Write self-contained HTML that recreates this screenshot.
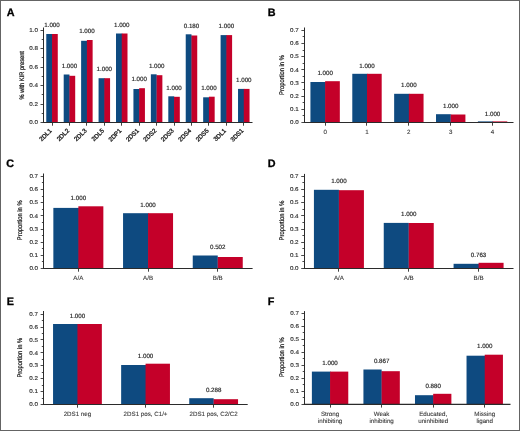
<!DOCTYPE html>
<html><head><meta charset="utf-8"><style>
html,body{margin:0;padding:0;background:#fff;}
body{width:520px;height:431px;overflow:hidden;}
svg{display:block;font-family:"Liberation Sans",sans-serif;will-change:transform;text-rendering:geometricPrecision;}
.t{font-size:6.2px;fill:#222;stroke:#222;stroke-width:0.15px;}
.tk{font-size:5.6px;fill:#333;stroke:#333;stroke-width:0.15px;}
.ti{font-size:6.7px;fill:#111;stroke:#111;stroke-width:0.22px;}
.tr{stroke-width:0.32px;}
.tx{fill:#383838;stroke:#383838;stroke-width:0.1px;}
.L{font-size:10.8px;font-weight:bold;fill:#000;stroke:#000;stroke-width:0.3px;}
</style></head><body>
<svg width="520" height="431" viewBox="0 0 520 431">
<rect x="0" y="0" width="520" height="431" fill="#fff"/>
<text x="6.75" y="15.6" class="L">A</text>
<line x1="43.5" y1="27.5" x2="43.5" y2="122.5" stroke="#2b2b2b" stroke-width="1"/>
<line x1="40.5" y1="122.50" x2="43.3" y2="122.50" stroke="#2b2b2b" stroke-width="0.85"/>
<text transform="translate(37.90,124.20) scale(1.12,1)" text-anchor="end" class="tk">0.0</text>
<line x1="41.699999999999996" y1="113.50" x2="43.3" y2="113.50" stroke="#2b2b2b" stroke-width="0.85"/>
<line x1="40.5" y1="104.50" x2="43.3" y2="104.50" stroke="#2b2b2b" stroke-width="0.85"/>
<text transform="translate(37.90,105.75) scale(1.12,1)" text-anchor="end" class="tk">0.2</text>
<line x1="41.699999999999996" y1="94.50" x2="43.3" y2="94.50" stroke="#2b2b2b" stroke-width="0.85"/>
<line x1="40.5" y1="85.50" x2="43.3" y2="85.50" stroke="#2b2b2b" stroke-width="0.85"/>
<text transform="translate(37.90,87.30) scale(1.12,1)" text-anchor="end" class="tk">0.4</text>
<line x1="41.699999999999996" y1="76.50" x2="43.3" y2="76.50" stroke="#2b2b2b" stroke-width="0.85"/>
<line x1="40.5" y1="67.50" x2="43.3" y2="67.50" stroke="#2b2b2b" stroke-width="0.85"/>
<text transform="translate(37.90,68.85) scale(1.12,1)" text-anchor="end" class="tk">0.6</text>
<line x1="41.699999999999996" y1="57.50" x2="43.3" y2="57.50" stroke="#2b2b2b" stroke-width="0.85"/>
<line x1="40.5" y1="48.50" x2="43.3" y2="48.50" stroke="#2b2b2b" stroke-width="0.85"/>
<text transform="translate(37.90,50.40) scale(1.12,1)" text-anchor="end" class="tk">0.8</text>
<line x1="41.699999999999996" y1="39.50" x2="43.3" y2="39.50" stroke="#2b2b2b" stroke-width="0.85"/>
<line x1="40.5" y1="30.50" x2="43.3" y2="30.50" stroke="#2b2b2b" stroke-width="0.85"/>
<text transform="translate(37.90,31.95) scale(1.12,1)" text-anchor="end" class="tk">1.0</text>
<text transform="translate(23.5,75.3) rotate(-90) scale(0.87,1)" text-anchor="middle" class="ti" style="font-size:6.55px">% with KIR present</text>
<rect x="46.27" y="34.00" width="6.35" height="88.50" fill="#0e4a80"/>
<rect x="52.02" y="34.00" width="5.75" height="88.50" fill="#c40029"/>
<text x="52.02" y="26.70" text-anchor="middle" class="t">1.000</text>
<rect x="63.70" y="74.50" width="5.75" height="48.00" fill="#0e4a80"/><rect x="69.35" y="75.80" width="0.7" height="46.70" fill="#0e4a80"/>
<rect x="69.45" y="75.80" width="5.75" height="46.70" fill="#c40029"/>
<text x="69.45" y="67.70" text-anchor="middle" class="t">1.000</text>
<rect x="81.13" y="40.80" width="6.35" height="81.70" fill="#0e4a80"/>
<rect x="86.88" y="40.00" width="5.75" height="82.50" fill="#c40029"/>
<text x="86.88" y="32.90" text-anchor="middle" class="t">1.000</text>
<rect x="98.57" y="78.20" width="6.35" height="44.30" fill="#0e4a80"/>
<rect x="104.32" y="78.20" width="5.75" height="44.30" fill="#c40029"/>
<text x="104.32" y="71.40" text-anchor="middle" class="t">1.000</text>
<rect x="116.00" y="33.50" width="6.35" height="89.00" fill="#0e4a80"/>
<rect x="121.75" y="33.50" width="5.75" height="89.00" fill="#c40029"/>
<text x="121.75" y="26.90" text-anchor="middle" class="t">1.000</text>
<rect x="133.43" y="89.00" width="6.35" height="33.50" fill="#0e4a80"/>
<rect x="139.18" y="88.20" width="5.75" height="34.30" fill="#c40029"/>
<text x="139.18" y="81.10" text-anchor="middle" class="t">1.000</text>
<rect x="150.87" y="74.30" width="5.75" height="48.20" fill="#0e4a80"/><rect x="156.52" y="75.20" width="0.7" height="47.30" fill="#0e4a80"/>
<rect x="156.62" y="75.20" width="5.75" height="47.30" fill="#c40029"/>
<text x="156.62" y="67.70" text-anchor="middle" class="t">1.000</text>
<rect x="168.30" y="96.30" width="5.75" height="26.20" fill="#0e4a80"/><rect x="173.95" y="96.80" width="0.7" height="25.70" fill="#0e4a80"/>
<rect x="174.05" y="96.80" width="5.75" height="25.70" fill="#c40029"/>
<text x="174.05" y="89.70" text-anchor="middle" class="t">1.000</text>
<rect x="185.73" y="34.30" width="5.75" height="88.20" fill="#0e4a80"/><rect x="191.38" y="35.50" width="0.7" height="87.00" fill="#0e4a80"/>
<rect x="191.48" y="35.50" width="5.75" height="87.00" fill="#c40029"/>
<text x="191.48" y="27.90" text-anchor="middle" class="t">0.180</text>
<rect x="203.17" y="97.30" width="6.35" height="25.20" fill="#0e4a80"/>
<rect x="208.92" y="96.70" width="5.75" height="25.80" fill="#c40029"/>
<text x="208.92" y="89.90" text-anchor="middle" class="t">1.000</text>
<rect x="220.60" y="35.10" width="6.35" height="87.40" fill="#0e4a80"/>
<rect x="226.35" y="35.10" width="5.75" height="87.40" fill="#c40029"/>
<text x="226.35" y="27.90" text-anchor="middle" class="t">1.000</text>
<rect x="238.03" y="88.90" width="6.35" height="33.60" fill="#0e4a80"/>
<rect x="243.78" y="88.90" width="5.75" height="33.60" fill="#c40029"/>
<text x="243.78" y="82.40" text-anchor="middle" class="t">1.000</text>
<line x1="42.8" y1="122.5" x2="252.5" y2="122.5" stroke="#2b2b2b" stroke-width="1.1"/>
<line x1="52.50" y1="122.5" x2="52.50" y2="125.7" stroke="#2b2b2b" stroke-width="0.9"/>
<line x1="69.50" y1="122.5" x2="69.50" y2="125.7" stroke="#2b2b2b" stroke-width="0.9"/>
<line x1="86.50" y1="122.5" x2="86.50" y2="125.7" stroke="#2b2b2b" stroke-width="0.9"/>
<line x1="104.50" y1="122.5" x2="104.50" y2="125.7" stroke="#2b2b2b" stroke-width="0.9"/>
<line x1="121.50" y1="122.5" x2="121.50" y2="125.7" stroke="#2b2b2b" stroke-width="0.9"/>
<line x1="139.50" y1="122.5" x2="139.50" y2="125.7" stroke="#2b2b2b" stroke-width="0.9"/>
<line x1="156.50" y1="122.5" x2="156.50" y2="125.7" stroke="#2b2b2b" stroke-width="0.9"/>
<line x1="174.50" y1="122.5" x2="174.50" y2="125.7" stroke="#2b2b2b" stroke-width="0.9"/>
<line x1="191.50" y1="122.5" x2="191.50" y2="125.7" stroke="#2b2b2b" stroke-width="0.9"/>
<line x1="208.50" y1="122.5" x2="208.50" y2="125.7" stroke="#2b2b2b" stroke-width="0.9"/>
<line x1="226.50" y1="122.5" x2="226.50" y2="125.7" stroke="#2b2b2b" stroke-width="0.9"/>
<line x1="243.50" y1="122.5" x2="243.50" y2="125.7" stroke="#2b2b2b" stroke-width="0.9"/>
<text transform="translate(52.22,131.1) rotate(-45)" text-anchor="end" class="t tr">2DL1</text>
<text transform="translate(69.65,131.1) rotate(-45)" text-anchor="end" class="t tr">2DL2</text>
<text transform="translate(87.08,131.1) rotate(-45)" text-anchor="end" class="t tr">2DL3</text>
<text transform="translate(104.52,131.1) rotate(-45)" text-anchor="end" class="t tr">2DL5</text>
<text transform="translate(121.95,131.1) rotate(-45)" text-anchor="end" class="t tr">2DP1</text>
<text transform="translate(139.38,131.1) rotate(-45)" text-anchor="end" class="t tr">2DS1</text>
<text transform="translate(156.82,131.1) rotate(-45)" text-anchor="end" class="t tr">2DS2</text>
<text transform="translate(174.25,131.1) rotate(-45)" text-anchor="end" class="t tr">2DS3</text>
<text transform="translate(191.68,131.1) rotate(-45)" text-anchor="end" class="t tr">2DS4</text>
<text transform="translate(209.12,131.1) rotate(-45)" text-anchor="end" class="t tr">2DS5</text>
<text transform="translate(226.55,131.1) rotate(-45)" text-anchor="end" class="t tr">3DL1</text>
<text transform="translate(243.98,131.1) rotate(-45)" text-anchor="end" class="t tr">3DS1</text>
<text x="267.7" y="15.8" class="L">B</text>
<line x1="304.5" y1="27.5" x2="304.5" y2="122.5" stroke="#2b2b2b" stroke-width="1"/>
<line x1="301.4" y1="122.50" x2="304.2" y2="122.50" stroke="#2b2b2b" stroke-width="0.85"/>
<text transform="translate(298.80,124.20) scale(1.12,1)" text-anchor="end" class="tk">0.0</text>
<line x1="302.59999999999997" y1="115.50" x2="304.2" y2="115.50" stroke="#2b2b2b" stroke-width="0.85"/>
<line x1="301.4" y1="109.50" x2="304.2" y2="109.50" stroke="#2b2b2b" stroke-width="0.85"/>
<text transform="translate(298.80,111.03) scale(1.12,1)" text-anchor="end" class="tk">0.1</text>
<line x1="302.59999999999997" y1="102.50" x2="304.2" y2="102.50" stroke="#2b2b2b" stroke-width="0.85"/>
<line x1="301.4" y1="96.50" x2="304.2" y2="96.50" stroke="#2b2b2b" stroke-width="0.85"/>
<text transform="translate(298.80,97.86) scale(1.12,1)" text-anchor="end" class="tk">0.2</text>
<line x1="302.59999999999997" y1="89.50" x2="304.2" y2="89.50" stroke="#2b2b2b" stroke-width="0.85"/>
<line x1="301.4" y1="82.50" x2="304.2" y2="82.50" stroke="#2b2b2b" stroke-width="0.85"/>
<text transform="translate(298.80,84.69) scale(1.12,1)" text-anchor="end" class="tk">0.3</text>
<line x1="302.59999999999997" y1="76.50" x2="304.2" y2="76.50" stroke="#2b2b2b" stroke-width="0.85"/>
<line x1="301.4" y1="69.50" x2="304.2" y2="69.50" stroke="#2b2b2b" stroke-width="0.85"/>
<text transform="translate(298.80,71.52) scale(1.12,1)" text-anchor="end" class="tk">0.4</text>
<line x1="302.59999999999997" y1="63.50" x2="304.2" y2="63.50" stroke="#2b2b2b" stroke-width="0.85"/>
<line x1="301.4" y1="56.50" x2="304.2" y2="56.50" stroke="#2b2b2b" stroke-width="0.85"/>
<text transform="translate(298.80,58.35) scale(1.12,1)" text-anchor="end" class="tk">0.5</text>
<line x1="302.59999999999997" y1="50.50" x2="304.2" y2="50.50" stroke="#2b2b2b" stroke-width="0.85"/>
<line x1="301.4" y1="43.50" x2="304.2" y2="43.50" stroke="#2b2b2b" stroke-width="0.85"/>
<text transform="translate(298.80,45.18) scale(1.12,1)" text-anchor="end" class="tk">0.6</text>
<line x1="302.59999999999997" y1="36.50" x2="304.2" y2="36.50" stroke="#2b2b2b" stroke-width="0.85"/>
<line x1="301.4" y1="30.50" x2="304.2" y2="30.50" stroke="#2b2b2b" stroke-width="0.85"/>
<text transform="translate(298.80,32.01) scale(1.12,1)" text-anchor="end" class="tk">0.7</text>
<text transform="translate(283.6,75.0) rotate(-90) scale(0.87,1)" text-anchor="middle" class="ti">Proportion in %</text>
<rect x="310.43" y="82.00" width="15.30" height="40.50" fill="#0e4a80"/>
<rect x="325.13" y="81.20" width="14.70" height="41.30" fill="#c40029"/>
<text x="325.13" y="74.90" text-anchor="middle" class="t">1.000</text>
<rect x="352.29" y="73.80" width="15.30" height="48.70" fill="#0e4a80"/>
<rect x="366.99" y="73.80" width="14.70" height="48.70" fill="#c40029"/>
<text x="366.99" y="67.70" text-anchor="middle" class="t">1.000</text>
<rect x="394.15" y="93.80" width="15.30" height="28.70" fill="#0e4a80"/>
<rect x="408.85" y="93.80" width="14.70" height="28.70" fill="#c40029"/>
<text x="408.85" y="87.10" text-anchor="middle" class="t">1.000</text>
<rect x="436.01" y="114.20" width="14.70" height="8.30" fill="#0e4a80"/><rect x="450.61" y="114.50" width="0.7" height="8.00" fill="#0e4a80"/>
<rect x="450.71" y="114.50" width="14.70" height="8.00" fill="#c40029"/>
<text x="450.71" y="108.40" text-anchor="middle" class="t">1.000</text>
<rect x="477.87" y="121.40" width="15.30" height="1.10" fill="#0e4a80"/>
<rect x="492.57" y="121.40" width="14.70" height="1.10" fill="#c40029"/>
<text x="492.57" y="115.90" text-anchor="middle" class="t">1.000</text>
<line x1="303.7" y1="122.5" x2="513.5" y2="122.5" stroke="#2b2b2b" stroke-width="1.1"/>
<line x1="325.50" y1="122.5" x2="325.50" y2="125.7" stroke="#2b2b2b" stroke-width="0.9"/>
<line x1="366.50" y1="122.5" x2="366.50" y2="125.7" stroke="#2b2b2b" stroke-width="0.9"/>
<line x1="408.50" y1="122.5" x2="408.50" y2="125.7" stroke="#2b2b2b" stroke-width="0.9"/>
<line x1="450.50" y1="122.5" x2="450.50" y2="125.7" stroke="#2b2b2b" stroke-width="0.9"/>
<line x1="492.50" y1="122.5" x2="492.50" y2="125.7" stroke="#2b2b2b" stroke-width="0.9"/>
<text x="325.13" y="133.70" text-anchor="middle" class="t tx">0</text>
<text x="366.99" y="133.70" text-anchor="middle" class="t tx">1</text>
<text x="408.85" y="133.70" text-anchor="middle" class="t tx">2</text>
<text x="450.71" y="133.70" text-anchor="middle" class="t tx">3</text>
<text x="492.57" y="133.70" text-anchor="middle" class="t tx">4</text>
<text x="6.26" y="166.8" class="L">C</text>
<line x1="43.5" y1="173.5" x2="43.5" y2="268.5" stroke="#2b2b2b" stroke-width="1"/>
<line x1="40.7" y1="268.50" x2="43.5" y2="268.50" stroke="#2b2b2b" stroke-width="0.85"/>
<text transform="translate(38.10,270.20) scale(1.12,1)" text-anchor="end" class="tk">0.0</text>
<line x1="41.9" y1="261.50" x2="43.5" y2="261.50" stroke="#2b2b2b" stroke-width="0.85"/>
<line x1="40.7" y1="255.50" x2="43.5" y2="255.50" stroke="#2b2b2b" stroke-width="0.85"/>
<text transform="translate(38.10,257.04) scale(1.12,1)" text-anchor="end" class="tk">0.1</text>
<line x1="41.9" y1="248.50" x2="43.5" y2="248.50" stroke="#2b2b2b" stroke-width="0.85"/>
<line x1="40.7" y1="242.50" x2="43.5" y2="242.50" stroke="#2b2b2b" stroke-width="0.85"/>
<text transform="translate(38.10,243.88) scale(1.12,1)" text-anchor="end" class="tk">0.2</text>
<line x1="41.9" y1="235.50" x2="43.5" y2="235.50" stroke="#2b2b2b" stroke-width="0.85"/>
<line x1="40.7" y1="229.50" x2="43.5" y2="229.50" stroke="#2b2b2b" stroke-width="0.85"/>
<text transform="translate(38.10,230.72) scale(1.12,1)" text-anchor="end" class="tk">0.3</text>
<line x1="41.9" y1="222.50" x2="43.5" y2="222.50" stroke="#2b2b2b" stroke-width="0.85"/>
<line x1="40.7" y1="215.50" x2="43.5" y2="215.50" stroke="#2b2b2b" stroke-width="0.85"/>
<text transform="translate(38.10,217.56) scale(1.12,1)" text-anchor="end" class="tk">0.4</text>
<line x1="41.9" y1="209.50" x2="43.5" y2="209.50" stroke="#2b2b2b" stroke-width="0.85"/>
<line x1="40.7" y1="202.50" x2="43.5" y2="202.50" stroke="#2b2b2b" stroke-width="0.85"/>
<text transform="translate(38.10,204.40) scale(1.12,1)" text-anchor="end" class="tk">0.5</text>
<line x1="41.9" y1="196.50" x2="43.5" y2="196.50" stroke="#2b2b2b" stroke-width="0.85"/>
<line x1="40.7" y1="189.50" x2="43.5" y2="189.50" stroke="#2b2b2b" stroke-width="0.85"/>
<text transform="translate(38.10,191.24) scale(1.12,1)" text-anchor="end" class="tk">0.6</text>
<line x1="41.9" y1="182.50" x2="43.5" y2="182.50" stroke="#2b2b2b" stroke-width="0.85"/>
<line x1="40.7" y1="176.50" x2="43.5" y2="176.50" stroke="#2b2b2b" stroke-width="0.85"/>
<text transform="translate(38.10,178.08) scale(1.12,1)" text-anchor="end" class="tk">0.7</text>
<text transform="translate(22.3,220.3) rotate(-90) scale(0.87,1)" text-anchor="middle" class="ti">Proportion in %</text>
<rect x="53.35" y="207.90" width="25.60" height="60.60" fill="#0e4a80"/>
<rect x="78.35" y="206.30" width="25.00" height="62.20" fill="#c40029"/>
<text x="78.35" y="200.20" text-anchor="middle" class="t">1.000</text>
<rect x="123.05" y="213.20" width="25.60" height="55.30" fill="#0e4a80"/>
<rect x="148.05" y="213.20" width="25.00" height="55.30" fill="#c40029"/>
<text x="148.05" y="207.00" text-anchor="middle" class="t">1.000</text>
<rect x="192.75" y="255.50" width="25.00" height="13.00" fill="#0e4a80"/><rect x="217.65" y="257.00" width="0.7" height="11.50" fill="#0e4a80"/>
<rect x="217.75" y="257.00" width="25.00" height="11.50" fill="#c40029"/>
<text x="217.75" y="248.90" text-anchor="middle" class="t">0.502</text>
<line x1="43.0" y1="268.5" x2="252.6" y2="268.5" stroke="#2b2b2b" stroke-width="1.1"/>
<line x1="78.50" y1="268.5" x2="78.50" y2="271.7" stroke="#2b2b2b" stroke-width="0.9"/>
<line x1="148.50" y1="268.5" x2="148.50" y2="271.7" stroke="#2b2b2b" stroke-width="0.9"/>
<line x1="217.50" y1="268.5" x2="217.50" y2="271.7" stroke="#2b2b2b" stroke-width="0.9"/>
<text x="78.35" y="279.70" text-anchor="middle" class="t tx">A/A</text>
<text x="148.05" y="279.70" text-anchor="middle" class="t tx">A/B</text>
<text x="217.75" y="279.70" text-anchor="middle" class="t tx">B/B</text>
<text x="267.7" y="167.2" class="L">D</text>
<line x1="304.5" y1="173.9" x2="304.5" y2="268.5" stroke="#2b2b2b" stroke-width="1"/>
<line x1="301.2" y1="268.50" x2="304.0" y2="268.50" stroke="#2b2b2b" stroke-width="0.85"/>
<text transform="translate(298.60,270.20) scale(1.12,1)" text-anchor="end" class="tk">0.0</text>
<line x1="302.4" y1="261.50" x2="304.0" y2="261.50" stroke="#2b2b2b" stroke-width="0.85"/>
<line x1="301.2" y1="255.50" x2="304.0" y2="255.50" stroke="#2b2b2b" stroke-width="0.85"/>
<text transform="translate(298.60,257.04) scale(1.12,1)" text-anchor="end" class="tk">0.1</text>
<line x1="302.4" y1="248.50" x2="304.0" y2="248.50" stroke="#2b2b2b" stroke-width="0.85"/>
<line x1="301.2" y1="242.50" x2="304.0" y2="242.50" stroke="#2b2b2b" stroke-width="0.85"/>
<text transform="translate(298.60,243.88) scale(1.12,1)" text-anchor="end" class="tk">0.2</text>
<line x1="302.4" y1="235.50" x2="304.0" y2="235.50" stroke="#2b2b2b" stroke-width="0.85"/>
<line x1="301.2" y1="229.50" x2="304.0" y2="229.50" stroke="#2b2b2b" stroke-width="0.85"/>
<text transform="translate(298.60,230.72) scale(1.12,1)" text-anchor="end" class="tk">0.3</text>
<line x1="302.4" y1="222.50" x2="304.0" y2="222.50" stroke="#2b2b2b" stroke-width="0.85"/>
<line x1="301.2" y1="215.50" x2="304.0" y2="215.50" stroke="#2b2b2b" stroke-width="0.85"/>
<text transform="translate(298.60,217.56) scale(1.12,1)" text-anchor="end" class="tk">0.4</text>
<line x1="302.4" y1="209.50" x2="304.0" y2="209.50" stroke="#2b2b2b" stroke-width="0.85"/>
<line x1="301.2" y1="202.50" x2="304.0" y2="202.50" stroke="#2b2b2b" stroke-width="0.85"/>
<text transform="translate(298.60,204.40) scale(1.12,1)" text-anchor="end" class="tk">0.5</text>
<line x1="302.4" y1="196.50" x2="304.0" y2="196.50" stroke="#2b2b2b" stroke-width="0.85"/>
<line x1="301.2" y1="189.50" x2="304.0" y2="189.50" stroke="#2b2b2b" stroke-width="0.85"/>
<text transform="translate(298.60,191.24) scale(1.12,1)" text-anchor="end" class="tk">0.6</text>
<line x1="302.4" y1="182.50" x2="304.0" y2="182.50" stroke="#2b2b2b" stroke-width="0.85"/>
<line x1="301.2" y1="176.50" x2="304.0" y2="176.50" stroke="#2b2b2b" stroke-width="0.85"/>
<text transform="translate(298.60,178.08) scale(1.12,1)" text-anchor="end" class="tk">0.7</text>
<text transform="translate(283.6,220.5) rotate(-90) scale(0.87,1)" text-anchor="middle" class="ti">Proportion in %</text>
<rect x="313.92" y="189.80" width="25.00" height="78.70" fill="#0e4a80"/><rect x="338.82" y="190.20" width="0.7" height="78.30" fill="#0e4a80"/>
<rect x="338.92" y="190.20" width="25.00" height="78.30" fill="#c40029"/>
<text x="338.92" y="183.40" text-anchor="middle" class="t">1.000</text>
<rect x="383.75" y="222.90" width="25.00" height="45.60" fill="#0e4a80"/><rect x="408.65" y="223.00" width="0.7" height="45.50" fill="#0e4a80"/>
<rect x="408.75" y="223.00" width="25.00" height="45.50" fill="#c40029"/>
<text x="408.75" y="216.10" text-anchor="middle" class="t">1.000</text>
<rect x="453.58" y="263.80" width="25.60" height="4.70" fill="#0e4a80"/>
<rect x="478.58" y="262.80" width="25.00" height="5.70" fill="#c40029"/>
<text x="478.58" y="256.80" text-anchor="middle" class="t">0.763</text>
<line x1="303.5" y1="268.5" x2="513.5" y2="268.5" stroke="#2b2b2b" stroke-width="1.1"/>
<line x1="338.50" y1="268.5" x2="338.50" y2="271.7" stroke="#2b2b2b" stroke-width="0.9"/>
<line x1="408.50" y1="268.5" x2="408.50" y2="271.7" stroke="#2b2b2b" stroke-width="0.9"/>
<line x1="478.50" y1="268.5" x2="478.50" y2="271.7" stroke="#2b2b2b" stroke-width="0.9"/>
<text x="338.92" y="279.70" text-anchor="middle" class="t tx">A/A</text>
<text x="408.75" y="279.70" text-anchor="middle" class="t tx">A/B</text>
<text x="478.58" y="279.70" text-anchor="middle" class="t tx">B/B</text>
<text x="6.7" y="305.1" class="L">E</text>
<line x1="43.5" y1="311.0" x2="43.5" y2="404.5" stroke="#2b2b2b" stroke-width="1"/>
<line x1="40.6" y1="404.50" x2="43.4" y2="404.50" stroke="#2b2b2b" stroke-width="0.85"/>
<text transform="translate(38.00,406.20) scale(1.12,1)" text-anchor="end" class="tk">0.0</text>
<line x1="41.8" y1="398.50" x2="43.4" y2="398.50" stroke="#2b2b2b" stroke-width="0.85"/>
<line x1="40.6" y1="391.50" x2="43.4" y2="391.50" stroke="#2b2b2b" stroke-width="0.85"/>
<text transform="translate(38.00,393.29) scale(1.12,1)" text-anchor="end" class="tk">0.1</text>
<line x1="41.8" y1="385.50" x2="43.4" y2="385.50" stroke="#2b2b2b" stroke-width="0.85"/>
<line x1="40.6" y1="378.50" x2="43.4" y2="378.50" stroke="#2b2b2b" stroke-width="0.85"/>
<text transform="translate(38.00,380.38) scale(1.12,1)" text-anchor="end" class="tk">0.2</text>
<line x1="41.8" y1="372.50" x2="43.4" y2="372.50" stroke="#2b2b2b" stroke-width="0.85"/>
<line x1="40.6" y1="365.50" x2="43.4" y2="365.50" stroke="#2b2b2b" stroke-width="0.85"/>
<text transform="translate(38.00,367.47) scale(1.12,1)" text-anchor="end" class="tk">0.3</text>
<line x1="41.8" y1="359.50" x2="43.4" y2="359.50" stroke="#2b2b2b" stroke-width="0.85"/>
<line x1="40.6" y1="352.50" x2="43.4" y2="352.50" stroke="#2b2b2b" stroke-width="0.85"/>
<text transform="translate(38.00,354.56) scale(1.12,1)" text-anchor="end" class="tk">0.4</text>
<line x1="41.8" y1="346.50" x2="43.4" y2="346.50" stroke="#2b2b2b" stroke-width="0.85"/>
<line x1="40.6" y1="339.50" x2="43.4" y2="339.50" stroke="#2b2b2b" stroke-width="0.85"/>
<text transform="translate(38.00,341.65) scale(1.12,1)" text-anchor="end" class="tk">0.5</text>
<line x1="41.8" y1="333.50" x2="43.4" y2="333.50" stroke="#2b2b2b" stroke-width="0.85"/>
<line x1="40.6" y1="327.50" x2="43.4" y2="327.50" stroke="#2b2b2b" stroke-width="0.85"/>
<text transform="translate(38.00,328.74) scale(1.12,1)" text-anchor="end" class="tk">0.6</text>
<line x1="41.8" y1="320.50" x2="43.4" y2="320.50" stroke="#2b2b2b" stroke-width="0.85"/>
<line x1="40.6" y1="314.50" x2="43.4" y2="314.50" stroke="#2b2b2b" stroke-width="0.85"/>
<text transform="translate(38.00,315.83) scale(1.12,1)" text-anchor="end" class="tk">0.7</text>
<text transform="translate(22.3,357.7) rotate(-90) scale(0.87,1)" text-anchor="middle" class="ti">Proportion in %</text>
<rect x="53.05" y="324.00" width="25.00" height="80.50" fill="#0e4a80"/>
<rect x="77.45" y="324.00" width="24.40" height="80.50" fill="#c40029"/>
<text x="77.45" y="317.70" text-anchor="middle" class="t">1.000</text>
<rect x="121.15" y="365.00" width="25.00" height="39.50" fill="#0e4a80"/>
<rect x="145.55" y="363.70" width="24.40" height="40.80" fill="#c40029"/>
<text x="145.55" y="357.60" text-anchor="middle" class="t">1.000</text>
<rect x="189.25" y="398.20" width="24.40" height="6.30" fill="#0e4a80"/><rect x="213.55" y="399.20" width="0.7" height="5.30" fill="#0e4a80"/>
<rect x="213.65" y="399.20" width="24.40" height="5.30" fill="#c40029"/>
<text x="213.65" y="391.70" text-anchor="middle" class="t">0.288</text>
<line x1="42.9" y1="404.5" x2="247.7" y2="404.5" stroke="#2b2b2b" stroke-width="1.1"/>
<line x1="77.50" y1="404.5" x2="77.50" y2="407.7" stroke="#2b2b2b" stroke-width="0.9"/>
<line x1="145.50" y1="404.5" x2="145.50" y2="407.7" stroke="#2b2b2b" stroke-width="0.9"/>
<line x1="213.50" y1="404.5" x2="213.50" y2="407.7" stroke="#2b2b2b" stroke-width="0.9"/>
<text x="77.45" y="415.70" text-anchor="middle" class="t tx">2DS1 neg</text>
<text x="145.55" y="415.70" text-anchor="middle" class="t tx">2DS1 pos, C1/+</text>
<text x="213.65" y="415.70" text-anchor="middle" class="t tx">2DS1 pos, C2/C2</text>
<text x="267.7" y="305.1" class="L">F</text>
<line x1="304.5" y1="311.1" x2="304.5" y2="404.4" stroke="#2b2b2b" stroke-width="1"/>
<line x1="301.5" y1="404.50" x2="304.3" y2="404.50" stroke="#2b2b2b" stroke-width="0.85"/>
<text transform="translate(298.90,406.10) scale(1.12,1)" text-anchor="end" class="tk">0.0</text>
<line x1="302.7" y1="397.50" x2="304.3" y2="397.50" stroke="#2b2b2b" stroke-width="0.85"/>
<line x1="301.5" y1="391.50" x2="304.3" y2="391.50" stroke="#2b2b2b" stroke-width="0.85"/>
<text transform="translate(298.90,393.07) scale(1.12,1)" text-anchor="end" class="tk">0.1</text>
<line x1="302.7" y1="384.50" x2="304.3" y2="384.50" stroke="#2b2b2b" stroke-width="0.85"/>
<line x1="301.5" y1="378.50" x2="304.3" y2="378.50" stroke="#2b2b2b" stroke-width="0.85"/>
<text transform="translate(298.90,380.04) scale(1.12,1)" text-anchor="end" class="tk">0.2</text>
<line x1="302.7" y1="371.50" x2="304.3" y2="371.50" stroke="#2b2b2b" stroke-width="0.85"/>
<line x1="301.5" y1="365.50" x2="304.3" y2="365.50" stroke="#2b2b2b" stroke-width="0.85"/>
<text transform="translate(298.90,367.01) scale(1.12,1)" text-anchor="end" class="tk">0.3</text>
<line x1="302.7" y1="358.50" x2="304.3" y2="358.50" stroke="#2b2b2b" stroke-width="0.85"/>
<line x1="301.5" y1="352.50" x2="304.3" y2="352.50" stroke="#2b2b2b" stroke-width="0.85"/>
<text transform="translate(298.90,353.98) scale(1.12,1)" text-anchor="end" class="tk">0.4</text>
<line x1="302.7" y1="345.50" x2="304.3" y2="345.50" stroke="#2b2b2b" stroke-width="0.85"/>
<line x1="301.5" y1="339.50" x2="304.3" y2="339.50" stroke="#2b2b2b" stroke-width="0.85"/>
<text transform="translate(298.90,340.95) scale(1.12,1)" text-anchor="end" class="tk">0.5</text>
<line x1="302.7" y1="332.50" x2="304.3" y2="332.50" stroke="#2b2b2b" stroke-width="0.85"/>
<line x1="301.5" y1="326.50" x2="304.3" y2="326.50" stroke="#2b2b2b" stroke-width="0.85"/>
<text transform="translate(298.90,327.92) scale(1.12,1)" text-anchor="end" class="tk">0.6</text>
<line x1="302.7" y1="319.50" x2="304.3" y2="319.50" stroke="#2b2b2b" stroke-width="0.85"/>
<line x1="301.5" y1="313.50" x2="304.3" y2="313.50" stroke="#2b2b2b" stroke-width="0.85"/>
<text transform="translate(298.90,314.89) scale(1.12,1)" text-anchor="end" class="tk">0.7</text>
<text transform="translate(283.6,357.1) rotate(-90) scale(0.87,1)" text-anchor="middle" class="ti">Proportion in %</text>
<rect x="311.88" y="371.60" width="18.80" height="32.80" fill="#0e4a80"/>
<rect x="330.07" y="371.60" width="18.20" height="32.80" fill="#c40029"/>
<text x="330.07" y="365.10" text-anchor="middle" class="t">1.000</text>
<rect x="363.43" y="369.50" width="18.20" height="34.90" fill="#0e4a80"/><rect x="381.52" y="371.20" width="0.7" height="33.20" fill="#0e4a80"/>
<rect x="381.62" y="371.20" width="18.20" height="33.20" fill="#c40029"/>
<text x="381.62" y="363.40" text-anchor="middle" class="t">0.867</text>
<rect x="414.98" y="395.20" width="18.80" height="9.20" fill="#0e4a80"/>
<rect x="433.18" y="393.80" width="18.20" height="10.60" fill="#c40029"/>
<text x="433.18" y="387.90" text-anchor="middle" class="t">0.880</text>
<rect x="466.53" y="355.70" width="18.80" height="48.70" fill="#0e4a80"/>
<rect x="484.73" y="354.70" width="18.20" height="49.70" fill="#c40029"/>
<text x="484.73" y="348.20" text-anchor="middle" class="t">1.000</text>
<line x1="303.8" y1="404.4" x2="510.5" y2="404.4" stroke="#2b2b2b" stroke-width="1.1"/>
<line x1="330.50" y1="404.4" x2="330.50" y2="407.59999999999997" stroke="#2b2b2b" stroke-width="0.9"/>
<line x1="381.50" y1="404.4" x2="381.50" y2="407.59999999999997" stroke="#2b2b2b" stroke-width="0.9"/>
<line x1="433.50" y1="404.4" x2="433.50" y2="407.59999999999997" stroke="#2b2b2b" stroke-width="0.9"/>
<line x1="484.50" y1="404.4" x2="484.50" y2="407.59999999999997" stroke="#2b2b2b" stroke-width="0.9"/>
<text x="330.07" y="415.60" text-anchor="middle" class="t tx">Strong</text>
<text x="330.07" y="423.20" text-anchor="middle" class="t tx">inhibiting</text>
<text x="381.62" y="415.60" text-anchor="middle" class="t tx">Weak</text>
<text x="381.62" y="423.20" text-anchor="middle" class="t tx">inhibiting</text>
<text x="433.18" y="415.60" text-anchor="middle" class="t tx">Educated,</text>
<text x="433.18" y="423.20" text-anchor="middle" class="t tx">uninhibited</text>
<text x="484.73" y="415.60" text-anchor="middle" class="t tx">Missing</text>
<text x="484.73" y="423.20" text-anchor="middle" class="t tx">ligand</text>
<rect x="0.5" y="0.5" width="519" height="430" fill="none" stroke="#646464" stroke-width="1"/>
</svg>
</body></html>
